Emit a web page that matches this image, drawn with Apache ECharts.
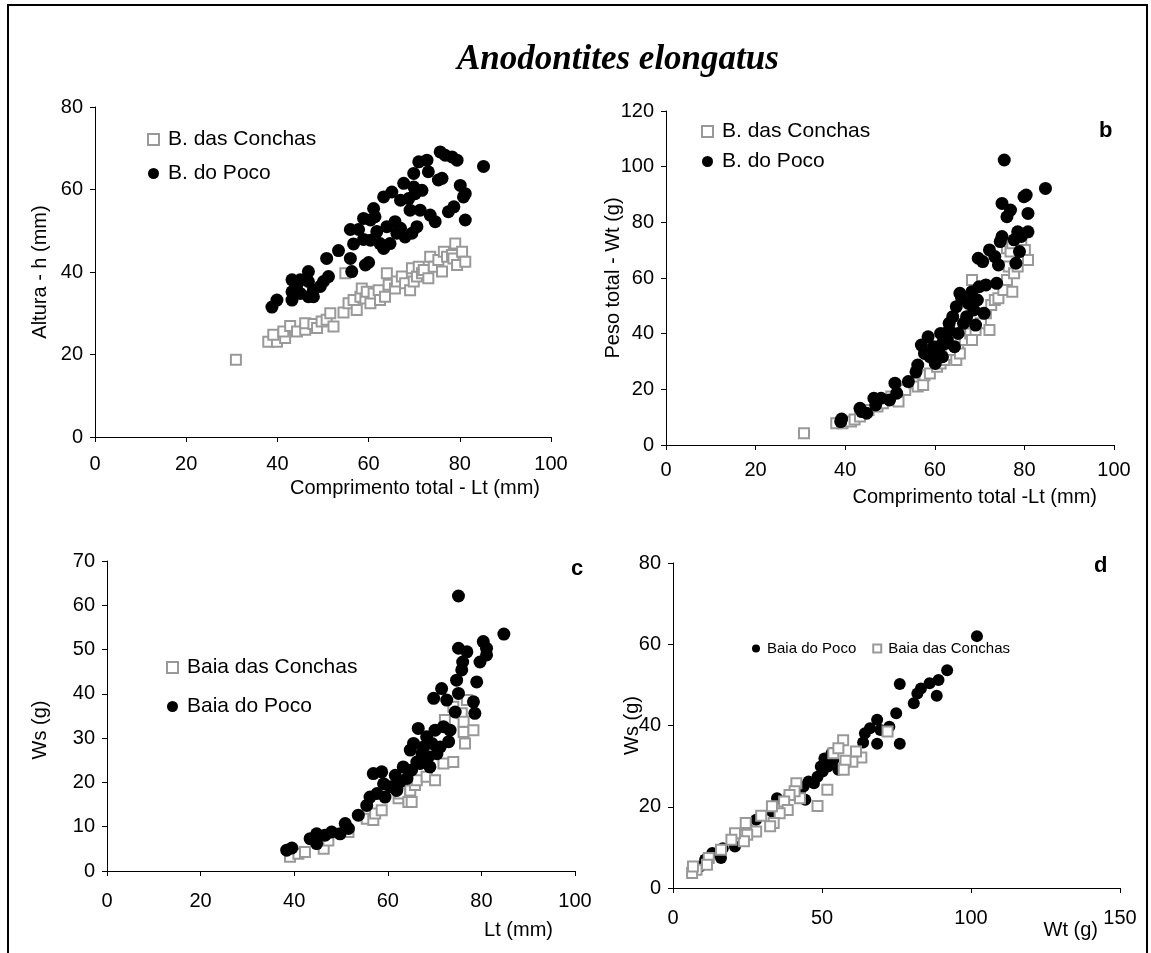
<!DOCTYPE html>
<html>
<head>
<meta charset="utf-8">
<title>Anodontites elongatus</title>
<script src="https://cdn.jsdelivr.net/npm/echarts@6/dist/echarts.min.js"></script>
<style>
  html, body { margin: 0; padding: 0; background: #fff; }
  #chart { width: 1151px; height: 953px; }
</style>
</head>
<body>
<div id="chart"></div>
<script>
  // a: comprimento total (Lt) x altura (h)
  var aConchas = [[30.9,18.7],[38.0,23.1],[39.9,23.1],[39.1,24.8],[41.7,24.0],[41.3,25.6],[42.8,26.9],[44.3,25.6],[46.1,26.0],[46.1,27.6],
    [47.9,27.4],[48.7,26.4],[49.7,28.0],[50.8,28.4],[51.6,30.0],[52.3,26.8],[54.5,30.2],[54.9,39.7],[55.6,32.4],[56.7,33.2],
    [57.4,30.8],[58.2,34.0],[58.5,36.0],[59.3,33.6],[59.6,35.2],[60.4,32.4],[61.1,34.8],[62.2,35.6],[62.5,33.2],[63.6,34.0],
    [64.0,39.7],[64.4,36.9],[65.8,36.0],[66.2,37.7],[67.3,38.9],[68.0,37.3],[69.1,35.6],[69.5,40.9],[69.9,37.7],[70.6,38.9],
    [71.0,41.3],[71.7,39.7],[72.1,40.5],[73.1,38.5],[73.5,43.7],[74.3,41.3],[75.3,42.9],[76.1,40.1],[76.5,44.9],[77.2,43.7],
    [78.3,44.1],[78.6,43.3],[79.0,46.9],[79.4,41.7],[80.5,44.9],[81.2,42.5]];
  var aPoco = [[38.8,31.5],[39.9,33.2],[43.2,38.1],[43.2,35.2],[43.2,33.2],[44.3,36.9],[45.0,38.1],[45.0,34.8],[46.8,40.1],[46.8,37.7],
    [46.8,34.0],[47.9,35.6],[47.9,34.0],[49.4,36.5],[50.1,37.7],[51.2,38.9],[50.8,43.3],[53.4,45.2],[56.0,43.3],[56.3,40.1],
    [56.7,46.8],[56.0,50.3],[57.8,50.3],[58.9,53.0],[58.9,47.9],[59.3,41.7],[60.0,42.3],[60.4,47.7],[60.4,52.6],[61.1,55.4],
    [61.4,53.4],[61.8,49.8],[62.5,46.9],[63.3,58.2],[63.3,45.7],[64.7,46.9],[65.1,59.4],[64.0,51.0],[65.8,52.2],[66.2,49.4],
    [67.0,50.6],[67.0,57.4],[67.7,61.5],[68.0,48.5],[68.8,57.8],[69.1,55.0],[69.5,49.4],[69.9,63.9],[69.9,60.6],[70.2,59.0],
    [70.6,51.0],[71.0,66.7],[71.3,55.0],[71.7,59.8],[72.8,67.1],[73.1,64.3],[73.5,53.8],[74.6,52.2],[75.3,62.3],[75.7,69.1],
    [76.1,62.7],[76.8,68.3],[77.5,54.6],[78.3,67.9],[78.7,55.8],[79.4,67.1],[80.1,61.0],[80.8,58.2],[81.2,59.0],[81.2,52.6],
    [85.2,65.6]];

  // b: comprimento total (Lt) x peso total (Wt)
  var bConchas = [[30.8,4.2],[38.0,7.8],[39.4,7.8],[41.3,8.4],[42.1,9.2],[43.3,10.2],[45.2,12.6],[47.2,13.8],[48.4,15.0],[50.3,17.4],
    [51.9,15.6],[53.4,19.8],[55.4,22.2],[56.2,21.0],[57.4,21.6],[57.7,25.1],[58.9,25.7],[60.5,28.1],[61.3,29.3],[62.1,30.5],
    [62.9,32.3],[63.6,34.1],[64.8,30.5],[65.2,35.3],[65.6,32.9],[66.7,37.7],[67.9,40.1],[68.3,37.7],[68.3,59.3],[69.1,41.3],
    [70.3,43.7],[71.4,47.3],[72.2,41.3],[72.6,50.3],[73.4,52.1],[74.2,52.7],[75.3,55.7],[76.1,59.3],[76.1,70.7],[76.5,64.1],
    [76.9,69.5],[77.3,55.1],[77.3,72.5],[77.7,61.7],[78.5,64.1],[79.3,73.1],[80.1,70.1],[80.8,66.5]];
  var bPoco = [[39.2,9.3],[39.0,8.4],[43.3,13.2],[43.7,12.0],[44.8,11.4],[46.4,16.8],[46.8,14.4],[48.0,16.8],[49.9,16.2],[51.1,22.2],
    [51.5,18.6],[54.1,22.8],[55.8,26.3],[56.2,28.7],[57.0,35.9],[58.5,38.9],[57.7,32.9],[58.9,31.7],[59.7,35.3],[60.1,29.3],
    [60.9,34.1],[61.3,40.1],[61.7,31.7],[61.7,36.5],[62.4,36.5],[62.8,37.7],[63.2,41.3],[63.2,43.7],[64.0,46.1],[64.4,35.3],
    [64.8,49.7],[65.2,40.1],[65.6,54.5],[66.0,52.7],[66.4,43.7],[67.1,46.1],[67.5,50.9],[68.3,55.1],[68.7,48.5],[69.1,43.1],
    [69.5,52.1],[69.9,56.9],[69.7,67.1],[70.7,65.9],[71.0,47.3],[71.4,57.5],[72.2,70.1],[73.4,67.7],[73.8,58.1],[74.2,64.7],
    [75.0,74.9],[74.6,73.1],[75.0,86.8],[75.5,102.4],[76.1,82.0],[76.9,84.4],[77.7,73.7],[78.1,65.3],[78.5,76.6],[78.9,69.5],
    [79.3,74.9],[79.9,89.2],[80.4,89.8],[80.8,83.2],[80.8,76.6],[84.7,92.2]];

  // c: Lt x peso seco (Ws)
  var cConchas = [[39.1,3.2],[40.9,3.9],[42.3,4.3],[46.3,5.0],[47.3,6.9],[51.6,8.8],[55.5,11.8],[56.9,11.5],[57.3,13.0],[58.7,13.7],
    [62.3,16.4],[62.6,17.5],[64.4,15.6],[65.1,15.6],[64.8,18.2],[65.8,19.4],[66.2,20.5],[68.3,21.3],[70.1,20.5],[71.9,24.3],
    [74.0,24.6],[72.2,34.1],[74.0,37.1],[75.8,35.6],[76.2,33.7],[76.2,31.4],[76.9,38.6],[76.5,28.8],[78.3,31.8]];
  var cPoco = [[38.4,4.7],[39.5,5.2],[43.4,7.3],[44.8,8.4],[44.8,6.2],[46.6,8.1],[48.0,8.8],[49.8,8.4],[50.9,10.7],[51.6,9.6],
    [53.7,12.6],[55.5,14.8],[56.2,16.7],[56.9,22.0],[57.7,17.5],[58.7,22.4],[59.1,19.7],[59.4,16.7],[60.5,19.0],[61.2,19.0],
    [61.6,21.6],[61.9,18.2],[62.6,20.1],[63.3,23.5],[64.1,20.9],[64.8,27.3],[65.1,22.8],[65.5,28.8],[66.2,24.6],[66.5,32.2],
    [66.9,24.3],[67.3,26.5],[67.6,28.0],[68.3,30.3],[68.7,25.8],[69.0,23.5],[69.4,28.8],[69.8,39.0],[70.1,31.8],[70.5,26.5],
    [71.2,28.0],[71.5,41.2],[71.9,32.6],[72.6,38.6],[73.0,29.2],[73.3,31.8],[74.4,35.9],[74.7,43.1],[75.1,50.3],[75.1,40.1],
    [75.1,62.1],[75.8,45.4],[76.0,47.2],[76.9,49.5],[78.3,38.2],[78.6,35.6],[79.0,42.7],[79.7,47.2],[80.4,51.8],[81.1,50.3],
    [81.1,48.8],[84.8,53.5]];

  // d: Wt x Ws
  var dPoco = [[102.0,62.0],[92.0,53.6],[89.1,51.2],[88.5,47.3],[86.1,50.4],[83.2,49.1],[82.0,47.9],[80.8,45.5],[76.1,50.2],[74.9,43.0],
    [76.1,35.5],[72.6,39.7],[68.5,41.4],[68.5,35.5],[66.1,39.3],[64.4,38.1],[63.8,35.8],[69.6,38.9],[57.9,30.7],[55.5,29.1],
    [53.8,31.5],[53.2,33.2],[50.8,31.9],[52.0,29.9],[50.2,28.7],[49.6,29.9],[48.5,27.4],[47.3,25.8],[45.5,26.2],[44.4,21.7],
    [43.8,25.0],[42.6,23.3],[39.1,22.9],[34.9,22.1],[33.2,18.8],[27.9,16.8],[24.9,14.7],[20.8,10.2],[16.7,9.8],[16.1,7.4],
    [13.2,8.6],[10.8,7.0],[9.1,5.3],[7.3,4.5]];
  var dConchas = [[72.0,38.5],[63.2,32.1],[61.4,33.6],[60.2,31.1],[57.9,31.3],[57.1,36.4],[57.3,29.1],[53.8,33.2],[55.5,34.4],[51.8,24.2],
    [48.5,20.2],[42.6,22.1],[41.4,25.8],[40.8,23.8],[39.1,22.9],[37.3,21.3],[38.5,19.2],[35.8,18.4],[33.2,20.1],[33.8,16.0],
    [32.6,15.2],[29.6,17.8],[27.9,13.9],[24.9,13.1],[24.4,16.0],[23.8,11.5],[20.8,13.5],[19.6,11.9],[16.1,9.4],[12.0,7.4],
    [11.4,5.7],[7.9,4.5],[6.4,3.7],[6.7,5.3]];

  var FONT = 'Liberation Sans';
  var chart = echarts.init(document.getElementById('chart'));

  function xAxisOf(i, max, interval, name, gap, pad, margin) {
    return {
      type: 'value', gridIndex: i, min: 0, max: max, interval: interval,
      name: name, nameLocation: 'end', nameGap: gap, nameMoveOverlap: false,
      nameTextStyle: { color: '#000', fontFamily: FONT, fontSize: 20, align: 'right', verticalAlign: 'top', padding: [pad, 0, 0, 0] },
      axisLine: { onZero: false, lineStyle: { color: '#000', width: 1 } },
      axisTick: { show: true, length: 5, lineStyle: { color: '#000' } },
      axisLabel: { color: '#000', fontFamily: FONT, fontSize: 20, margin: margin },
      splitLine: { show: false }
    };
  }

  function yAxisOf(i, max, interval, name, gap, namePad) {
    return {
      type: 'value', gridIndex: i, min: 0, max: max, interval: interval,
      name: name, nameLocation: 'middle', nameRotate: 90, nameGap: gap, nameMoveOverlap: false,
      nameTextStyle: { color: '#000', fontFamily: FONT, fontSize: 20, padding: namePad || 0 },
      axisLine: { show: true, onZero: false, lineStyle: { color: '#000', width: 1 } },
      axisTick: { show: true, length: 5, lineStyle: { color: '#000' } },
      axisLabel: { color: '#000', fontFamily: FONT, fontSize: 20, margin: 12 },
      splitLine: { show: false }
    };
  }

  var square = { symbol: 'rect', symbolSize: 10, itemStyle: { color: '#fff', borderColor: '#999', borderWidth: 2, opacity: 1 } };
  var dot = { symbol: 'circle', symbolSize: 13, itemStyle: { color: '#000', opacity: 1 } };

  function scatter(name, i, data, look, size) {
    return {
      type: 'scatter', name: name, xAxisIndex: i, yAxisIndex: i, data: data,
      symbol: look.symbol, symbolSize: size || look.symbolSize, itemStyle: look.itemStyle,
      emphasis: { disabled: true }
    };
  }

  var legendText = { color: '#000', fontFamily: FONT, fontSize: 21, padding: [0, 0, 0, 4] };

  chart.setOption({
    animation: false,
    backgroundColor: '#fff',
    title: [
      { text: 'Anodontites elongatus', left: 452, top: 37,
        textStyle: { fontFamily: 'Liberation Serif', fontStyle: 'italic', fontWeight: 'bold', fontSize: 35, color: '#000' } },
      { text: 'b', left: 1094, top: 115, textStyle: { fontFamily: FONT, fontWeight: 'bold', fontSize: 22, color: '#000' } },
      { text: 'c', left: 566, top: 553, textStyle: { fontFamily: FONT, fontWeight: 'bold', fontSize: 22, color: '#000' } },
      { text: 'd', left: 1089, top: 550, textStyle: { fontFamily: FONT, fontWeight: 'bold', fontSize: 22, color: '#000' } }
    ],
    graphic: [
      { type: 'rect', shape: { x: 8, y: 5, width: 1139, height: 1000 }, style: { fill: 'none', stroke: '#000', lineWidth: 2 }, silent: true }
    ],
    legend: [
      { data: ['B. das Conchas', 'B. do Poco'], orient: 'vertical', left: 142, top: 124, itemGap: 13, itemWidth: 11, itemHeight: 11, textStyle: legendText },
      { data: ['B. das Conchas', 'B. do Poco'], orient: 'vertical', left: 696, top: 116, itemGap: 9, itemWidth: 11, itemHeight: 11, textStyle: legendText },
      { data: ['Baia das Conchas', 'Baia do Poco'], orient: 'vertical', left: 161, top: 652, itemGap: 18, itemWidth: 11, itemHeight: 11, textStyle: legendText },
      { data: ['Baia do Poco', 'Baia das Conchas'], orient: 'horizontal', left: 747, top: 636, itemGap: 16, itemWidth: 8, itemHeight: 8,
        textStyle: { color: '#000', fontFamily: FONT, fontSize: 15, padding: [0, 0, 0, 2] } }
    ],
    grid: [
      { left: 95, top: 107, width: 456, height: 330, outerBoundsMode: 'none' },
      { left: 666, top: 111, width: 448, height: 334, outerBoundsMode: 'none' },
      { left: 107, top: 561, width: 468, height: 310, outerBoundsMode: 'none' },
      { left: 673, top: 563, width: 447, height: 325, outerBoundsMode: 'none' }
    ],
    xAxis: [
      xAxisOf(0, 100, 20, 'Comprimento total - Lt (mm)', -11, 41, 17),
      xAxisOf(1, 100, 20, 'Comprimento total -Lt (mm)', -17, 42, 15),
      xAxisOf(2, 100, 20, 'Lt (mm)', -22, 49, 20),
      xAxisOf(3, 150, 50, 'Wt (g)', -22, 32, 20)
    ],
    yAxis: [
      yAxisOf(0, 80, 20, 'Altura - h (mm)', 45),
      yAxisOf(1, 120, 20, 'Peso total - Wt (g)', 43),
      yAxisOf(2, 70, 10, 'Ws (g)', 57, [0, 28, 0, 0]),
      yAxisOf(3, 80, 20, 'Ws (g)', 31)
    ],
    series: [
      scatter('B. das Conchas', 0, aConchas, square),
      scatter('B. do Poco', 0, aPoco, dot),
      scatter('B. das Conchas', 1, bConchas, square),
      scatter('B. do Poco', 1, bPoco, dot),
      scatter('Baia das Conchas', 2, cConchas, square),
      scatter('Baia do Poco', 2, cPoco, dot),
      scatter('Baia do Poco', 3, dPoco, dot, 12),
      scatter('Baia das Conchas', 3, dConchas, square, 10)
    ]
  });
</script>
</body>
</html>
